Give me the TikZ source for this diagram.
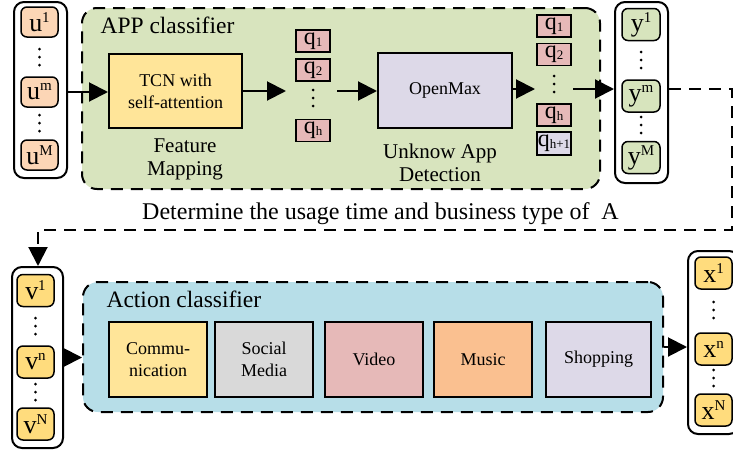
\documentclass[tikz,border=0pt]{standalone}
\usepackage{fontspec}
\setmainfont{Liberation Serif}
\usetikzlibrary{arrows.meta}
\definecolor{appg}{RGB}{216,228,190}
\definecolor{upeach}{RGB}{252,214,182}
\definecolor{tcny}{RGB}{255,229,153}
\definecolor{qpink}{RGB}{230,185,184}
\definecolor{lav}{RGB}{221,217,232}
\definecolor{yg}{RGB}{215,228,189}
\definecolor{vy}{RGB}{255,220,125}
\definecolor{actb}{RGB}{183,222,232}
\definecolor{soc}{RGB}{217,217,217}
\definecolor{music}{RGB}{250,192,144}
\newcommand{\supl}[2]{{\fontsize{26}{26}\selectfont #1}\raisebox{9pt}{\fontsize{15}{15}\selectfont #2}}
\newcommand{\subl}[2]{{\fontsize{24}{24}\selectfont #1}\raisebox{-2pt}{\fontsize{13}{13}\selectfont #2}}
\newcommand{\mydots}[2]{\foreach \dd in {-8,0,8} {\fill (#1,#2+\dd) circle (1.5);}}
\begin{document}
\begin{tikzpicture}[x=1pt,y=-1pt,
  outerbox/.style={draw, line width=2pt, rounded corners=10pt, inner sep=0pt, minimum width=52pt},
  elem/.style={draw, line width=1.5pt, rounded corners=6pt, inner sep=0pt, minimum width=37pt, minimum height=32pt},
  qbox/.style={draw, line width=1.5pt, inner sep=0pt, minimum width=34pt, minimum height=22pt, fill=qpink},
  proc/.style={draw, line width=2pt, inner sep=0pt, align=center, font=\fontsize{18}{22}\selectfont},
  group/.style={draw, dash pattern=on 12pt off 8pt, line width=2pt, rounded corners=15pt, inner sep=0pt},
  arr/.style={line width=2pt, -{Triangle[length=19pt,width=19pt]}},
  dline/.style={line width=2pt, dash pattern=on 12pt off 8pt, -{Triangle[length=19pt,width=19pt]}},
  caption/.style={align=center, font=\fontsize{21}{23}\selectfont},
  title/.style={anchor=base west, font=\fontsize{23.5}{26}\selectfont}
]
\useasboundingbox (0,0) rectangle (733,455);

% ---- APP classifier group
\node[group, fill=appg, minimum width=518pt, minimum height=181pt] (app) at (341,98.5) {};
\node[title] (apptitle) at (97,33) {APP classifier};

% ---- u column
\node[outerbox, fill=white, minimum height=176pt, minimum width=53pt] (uo) at (40.5,90) {};
\node[elem, fill=upeach, minimum height=30pt] (u1) at (39.5,22) {\supl{u}{1}};
\node[elem, fill=upeach, minimum height=30pt] (um) at (39.5,92) {\supl{u}{m}};
\node[elem, fill=upeach, minimum height=30pt] (uM) at (39.5,155) {\supl{u}{M}};
\mydots{39.5}{57}
\mydots{39.5}{123}

% ---- TCN
\node[proc, fill=tcny, minimum width=133pt, minimum height=74pt] (tcn) at (175.5,91) {TCN with\\self-attention};
\node[caption] (feat) at (185,159) {Feature\\Mapping};

% ---- q column 1
\node[qbox] (qa1) at (313,41) {\subl{q}{1}};
\node[qbox] (qa2) at (313,70) {\subl{q}{2}};
\node[qbox] (qah) at (313,130.5) {\subl{q}{h}};
\mydots{313}{98}

% ---- OpenMax
\node[proc, fill=lav, minimum width=134pt, minimum height=75pt] (om) at (445,90.5) {OpenMax};
\node[caption] (unk) at (440,163) {Unknow App\\Detection};

% ---- q column 2
\node[qbox] (qb1) at (554,26) {\subl{q}{1}};
\node[qbox] (qb2) at (554,54.5) {\subl{q}{2}};
\node[qbox] (qbh) at (554,115) {\subl{q}{h}};
\node[qbox, fill=lav, minimum height=23pt] (qbh1) at (554,143.5) {\subl{q}{h+1}};
\mydots{554}{84}

% ---- y column
\node[outerbox, fill=white, minimum height=181pt, minimum width=53pt] (yo) at (641.5,92.5) {};
\node[elem, fill=yg, minimum width=38pt] (y1) at (641,24.5) {\supl{y}{1}};
\node[elem, fill=yg, minimum width=38pt] (ym) at (641,96) {\supl{y}{m}};
\node[elem, fill=yg, minimum width=38pt] (yM) at (641,157.5) {\supl{y}{M}};
\mydots{641}{60}
\mydots{641}{125}

% ---- arrows top row
\draw[arr] (uo.east |- um) -- (tcn.west |- um);
\coordinate (a1e) at (286,91);
\draw[arr] (tcn.east) -- (a1e);
\coordinate (a2s) at (337,91);
\draw[arr] (a2s) -- (om.west |- a2s);
\coordinate (a3e) at (535,89);
\draw[arr] (om.east |- a3e) -- (a3e);
\coordinate (a4s) at (573,89);
\draw[arr] (a4s) -- (yo.west |- a4s);

% ---- middle text
\node[anchor=base, font=\fontsize{24}{28}\selectfont] (det) at (380.5,219) {Determine the usage time and business type of~~A};

% ---- v column
\node[outerbox, fill=white, minimum height=181pt, minimum width=51pt] (vo) at (37.5,357.5) {};
\node[elem, fill=vy] (v1) at (35.5,290.5) {\supl{v}{1}};
\node[elem, fill=vy] (vn) at (35.5,362) {\supl{v}{n}};
\node[elem, fill=vy] (vN) at (35.5,424) {\supl{v}{N}};
\mydots{35.5}{326}
\mydots{35.5}{392}

% ---- dashed connector
\coordinate (c1) at (732,89);
\coordinate (c2) at (732,230);
\coordinate (c3) at (38,230);
\draw[dline] (yo.east |- c1) -- (c1) -- (c2) -- (c3) -- (c3 |- vo.north);

% ---- Action classifier group
\node[group, fill=actb, minimum width=580pt, minimum height=130pt] (act) at (373,347) {};
\node[title] (acttitle) at (103,307) {Action classifier};
\node[proc, fill=tcny, minimum width=98pt, minimum height=75pt] (comm) at (158,359.5) {Commu-\\nication};
\node[proc, fill=soc, minimum width=98pt, minimum height=75pt] (social) at (264,359.5) {Social\\Media};
\node[proc, fill=qpink, minimum width=98pt, minimum height=75pt] (video) at (374,359.5) {Video};
\node[proc, fill=music, minimum width=98pt, minimum height=75pt] (musicb) at (483,359.5) {Music};
\node[proc, fill=lav, minimum width=105pt, minimum height=75pt] (shop) at (598.5,359.5) {Shopping};

% ---- x column
\node[outerbox, fill=white, minimum height=183pt, minimum width=51pt] (xo) at (713.5,342.5) {};
\node[elem, fill=vy] (x1) at (713.5,273) {\supl{x}{1}};
\node[elem, fill=vy] (xn) at (713.5,349) {\supl{x}{n}};
\node[elem, fill=vy] (xN) at (713.5,410) {\supl{x}{N}};
\mydots{713.5}{310}
\mydots{713.5}{378}

% ---- bottom arrows
\draw[arr] (vo.east) -- (vo.east -| act.west);
\draw[arr] (act.east) -- (act.east -| xo.west);
\end{tikzpicture}
\end{document}
